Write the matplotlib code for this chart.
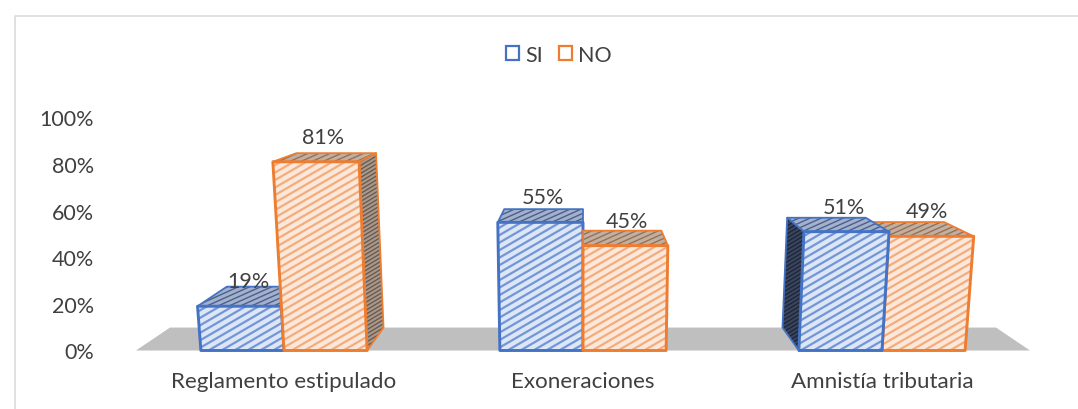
import matplotlib
matplotlib.use("Agg")
import numpy as np
import matplotlib.pyplot as plt
from matplotlib.patches import Polygon, Patch
from matplotlib.lines import Line2D
from matplotlib.collections import LineCollection
from matplotlib.transforms import IdentityTransform

categories = ["Reglamento estipulado", "Exoneraciones", "Amnistía tributaria"]
si_values = [19, 55, 51]
no_values = [81, 45, 49]
y_ticks = [0, 20, 40, 60, 80, 100]

BLUE, ORANGE = "#4472C4", "#ED7D31"
STYLE = {
    "SI": dict(edge=BLUE, front="#DCE6F6", line="#7396D6", top="#A3B1CC", top_line="#4A5F8C",
               side="#3A4660", side_line="#1E2638"),
    "NO": dict(edge=ORANGE, front="#FCE8DA", line="#F3AC7C", top="#BFB0A3", top_line="#9A7050",
               side="#A89A8E", side_line="#6E5A4B"),
}
WIDTH = 0.278       # bar width in category units
DEPTH = 0.076       # perspective depth factor
VX, VY = 1.0, 129.6 # vanishing point in data coordinates
TAPER = 0.00046     # widening of the front plane per percent of height

plt.rcParams["font.family"] = ["Lato", "DejaVu Sans"]
TEXT = "#404040"

fig = plt.figure(figsize=(10.78, 4.10), dpi=100)
fig.patch.set_facecolor("white")
fx, fy = [15 / 1078, 15 / 1078, 1.0], [0.0, 1 - 16.5 / 410, 1 - 16.5 / 410]
fig.add_artist(Line2D(fx, fy, transform=fig.transFigure, color="#D9D9D9", lw=1.1))
ax = fig.add_axes([134.5 / 1078, 1 - 351.5 / 410, 897 / 1078, 233 / 410])
ax.set_xlim(-0.5, 2.5)
ax.set_ylim(0, 100)
for s in ax.spines.values():
    s.set_visible(False)
ax.patch.set_alpha(0)


def front(x, h):
    return (VX + (x - VX) * (1 + TAPER * h), h)


def back(p, d=DEPTH):
    return (p[0] + (VX - p[0]) * d, p[1] + (VY - p[1]) * d)


def face(pts, fc, edge, line_col, spacing, slope, line_w, lw, z):
    poly = Polygon(pts, closed=True, facecolor=fc, edgecolor="none", clip_on=False, zorder=z)
    ax.add_patch(poly)
    # diagonal shading, laid out in pixels and clipped to the face
    disp = ax.transData.transform(pts)
    xa, xb = disp[:, 0].min() - 2, disp[:, 0].max() + 2
    ya, yb = disp[:, 1].min(), disp[:, 1].max()
    cs = np.arange(ya - slope * xb - spacing, yb - slope * xa + spacing, spacing)
    segs = [[(xa, slope * xa + c), (xb, slope * xb + c)] for c in cs]
    lc = LineCollection(segs, colors=line_col, linewidths=line_w, transform=IdentityTransform(), zorder=z)
    ax.add_collection(lc, autolim=False)
    lc.set_clip_path(poly)
    ax.add_patch(Polygon(pts, closed=True, fill=False, edgecolor=edge, lw=lw, joinstyle="round",
                         clip_on=False, zorder=z))


def draw_bar(x0, x1, v, st, z):
    bl, br, tl, tr = front(x0, 0), front(x1, 0), front(x0, v), front(x1, v)
    face([tl, tr, back(tr), back(tl)], st["top"], st["edge"], st["top_line"], 5.0, 0.45, 1.0, 1.3, z)
    if x1 < VX - 0.001:
        face([br, tr, back(tr), back(br)], st["side"], st["edge"], st["side_line"], 4.0, 0.6, 1.0, 1.3, z)
    if x0 > VX + 0.001:
        face([bl, tl, back(tl), back(bl)], st["side"], st["edge"], st["side_line"], 4.0, 0.6, 1.0, 1.3, z)
    face([bl, br, tr, tl], st["front"], st["edge"], st["line"], 7.5, 0.58, 1.6, 2.1, z + 0.1)
    mid = front((x0 + x1) / 2, v)
    lab = back(mid, DEPTH * 0.25)
    ax.annotate(f"{v}%", (lab[0], v + 10.7), xytext=(1.5, 0), textcoords="offset points", ha="center",
                va="center", fontsize=15.5, color=TEXT, zorder=20, annotation_clip=False)


# floor
f_l, f_r = (-0.495, 0), (2.495, 0)
ax.add_patch(Polygon([f_l, f_r, back(f_r), back(f_l)], closed=True, facecolor="#BFBFBF",
                     edgecolor="none", clip_on=False, zorder=1))

for i in range(len(categories)):
    pair = [(i - WIDTH, i, si_values[i], STYLE["SI"]), (i, i + WIDTH, no_values[i], STYLE["NO"])]
    if i > VX:
        pair = pair[::-1]
    for k, (x0, x1, v, st) in enumerate(pair):
        draw_bar(x0, x1, v, st, 3 + i + k * 0.3)

ax.set_xticks(range(len(categories)), categories)
ax.set_yticks(y_ticks, [f"{t}%" for t in y_ticks])
ax.tick_params(axis="both", length=0, labelcolor=TEXT)
ax.tick_params(axis="y", pad=29, labelsize=15.5)
ax.tick_params(axis="x", pad=14.5, labelsize=16.1)

handles = [Patch(facecolor="white", edgecolor=BLUE, lw=1.6, label="SI"),
           Patch(facecolor="white", edgecolor=ORANGE, lw=1.6, label="NO")]
fig.legend(handles=handles, loc="center", bbox_to_anchor=(559 / 1078, 1 - 56 / 410), ncols=2, frameon=False,
           fontsize=15.5, labelcolor=TEXT, handlelength=0.62, handleheight=0.62, handletextpad=0.3,
           columnspacing=0.7)

fig.savefig("out.png", dpi=100)
